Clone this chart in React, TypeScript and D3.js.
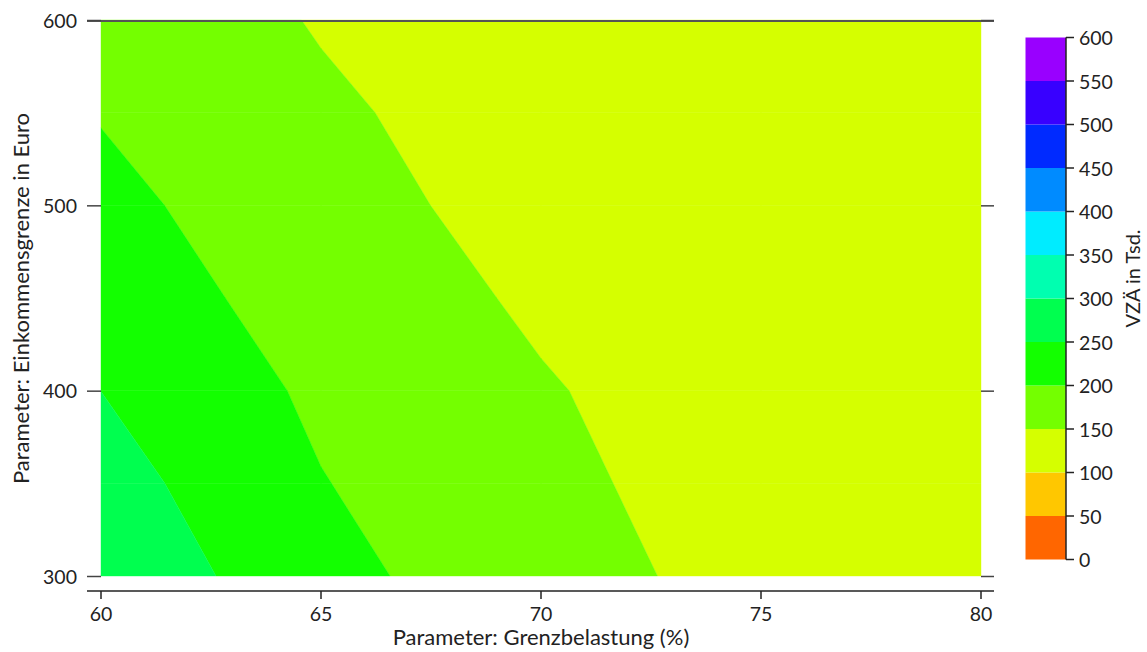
import React from "react";
import * as d3 from "d3";

// Grid axes
const xValues = [60, 65, 70, 75, 80];
const yValues = [300, 350, 400, 450, 500, 550, 600];

// VZÄ in Tsd., one array per Einkommensgrenze (row), columns follow xValues
const row300 = [288.3, 215.0, 167.2, 134.7, 120.0];
const row350 = [269.6, 202.0, 160.3, 128.9, 115.0];
const row400 = [249.8, 191.0, 154.0, 122.8, 110.0];
const row450 = [226.7, 179.5, 142.6, 117.0, 106.0];
const row500 = [212.2, 170.0, 129.8, 112.0, 103.0];
const row550 = [197.6, 158.0, 125.5, 108.0, 101.5];
const row600 = [186.0, 146.5, 118.0, 105.0, 100.8];
const grid = [row300, row350, row400, row450, row500, row550, row600];

// Contour levels and tick labels
const levels = [0, 50, 100, 150, 200, 250, 300, 350, 400, 450, 500, 550, 600];
const xTicks = [60, 65, 70, 75, 80];
const yTicks = [300, 400, 500, 600];
const xTitle = "Parameter: Grenzbelastung (%)";
const yTitle = "Parameter: Einkommensgrenze in Euro";
const legendTitle = "VZÄ in Tsd.";

const W = 1147;
const H = 652;
const FONT = "Lato, 'Source Sans Pro', sans-serif";
const FS_TICK = 19.5;
const FS_TITLE = 22;

const bandColor = (k: number) =>
  d3.hsl(24 + (k * 252) / 11, 1, 0.5).formatHex();

type P = [number, number];

function cellPolygon(c: [number, number, number][], lo: number, hi: number): P[] {
  const pts: P[] = [];
  for (let k = 0; k < 4; k++) {
    const [xa, ya, va] = c[k];
    const [xb, yb, vb] = c[(k + 1) % 4];
    if (va >= lo && va < hi) pts.push([xa, ya]);
    const ts: number[] = [];
    for (const L of [lo, hi]) {
      if ((va < L && vb >= L) || (va >= L && vb < L)) {
        ts.push((L - va) / (vb - va));
      }
    }
    ts.sort((a, b) => a - b);
    ts.forEach((t) => pts.push([xa + (xb - xa) * t, ya + (yb - ya) * t]));
  }
  return pts;
}

export default function App() {
  const x = d3.scaleLinear().domain([60, 80]).range([101, 981]);
  const y = d3.scaleLinear().domain([300, 600]).range([576, 20]);
  const cy = d3.scaleLinear().domain([0, 600]).range([559.5, 37.5]);

  const line = d3
    .line<P>()
    .x((d) => x(d[0]))
    .y((d) => y(d[1]));

  const polys: { d: string; fill: string; key: string }[] = [];
  for (let j = 0; j < yValues.length - 1; j++) {
    for (let i = 0; i < xValues.length - 1; i++) {
      const c: [number, number, number][] = [
        [xValues[i], yValues[j], grid[j][i]],
        [xValues[i + 1], yValues[j], grid[j][i + 1]],
        [xValues[i + 1], yValues[j + 1], grid[j + 1][i + 1]],
        [xValues[i], yValues[j + 1], grid[j + 1][i]],
      ];
      for (let k = 0; k < levels.length - 1; k++) {
        const pts = cellPolygon(c, levels[k], levels[k + 1]);
        if (pts.length >= 3) {
          polys.push({
            d: (line(pts) as string) + "Z",
            fill: bandColor(k),
            key: `${i}-${j}-${k}`,
          });
        }
      }
    }
  }

  const axisY = 591;
  const bx0 = 1025.5;
  const bx1 = 1066;

  return (
    <svg
      width={W}
      height={H}
      style={{ position: "absolute", left: 0, top: 0, background: "#fff" }}
      fontFamily={FONT}
    >
      {/* filled contours, drawn cell by cell */}
      <g>
        {polys.map((p) => (
          <path key={p.key} d={p.d} fill={p.fill} stroke={p.fill} strokeWidth={0.4} />
        ))}
      </g>

      {/* top frame line */}
      <line x1={87} x2={994} y1={21} y2={21} stroke="#555" strokeWidth={2} />

      {/* y ticks (left and right) */}
      {yTicks.map((t) => (
        <g key={t}>
          <line x1={87} x2={101} y1={y(t) + 0.5} y2={y(t) + 0.5} stroke="#444" strokeWidth={1.5} />
          <line x1={981} x2={994} y1={y(t) + 0.5} y2={y(t) + 0.5} stroke="#444" strokeWidth={1.5} />
          <text
            x={77}
            y={y(t)}
            textAnchor="end"
            dominantBaseline="central"
            fontSize={FS_TICK}
            fill="#222"
          >
            {t}
          </text>
        </g>
      ))}

      {/* x axis */}
      <line x1={87} x2={994} y1={axisY} y2={axisY} stroke="#222" strokeWidth={1.5} />
      {xTicks.map((t) => (
        <g key={t}>
          <line x1={x(t)} x2={x(t)} y1={axisY} y2={axisY + 8} stroke="#222" strokeWidth={1.5} />
          <text x={x(t)} y={620.5} textAnchor="middle" fontSize={FS_TICK} fill="#222">
            {t}
          </text>
        </g>
      ))}
      <text x={541} y={645} textAnchor="middle" fontSize={FS_TITLE} fill="#222">
        {xTitle}
      </text>
      <text
        transform={`translate(29,298.5) rotate(-90)`}
        textAnchor="middle"
        fontSize={FS_TITLE}
        fill="#222"
      >
        {yTitle}
      </text>

      {/* colour key */}
      {levels.slice(0, -1).map((lv, k) => (
        <rect
          key={lv}
          x={bx0}
          y={cy(levels[k + 1])}
          width={bx1 - bx0}
          height={cy(lv) - cy(levels[k + 1])}
          fill={bandColor(k)}
        />
      ))}
      <line x1={bx1} x2={bx1} y1={cy(600)} y2={cy(0)} stroke="#222" strokeWidth={1.5} />
      {levels.map((lv) => (
        <g key={lv}>
          <line x1={bx1} x2={bx1 + 8} y1={cy(lv)} y2={cy(lv)} stroke="#222" strokeWidth={1.5} />
          <text
            x={1079}
            y={cy(lv)}
            dominantBaseline="central"
            fontSize={FS_TICK}
            fill="#222"
          >
            {lv}
          </text>
        </g>
      ))}
      <text
        transform={`translate(1140,278.5) rotate(-90)`}
        textAnchor="middle"
        fontSize={20}
        fill="#222"
      >
        {legendTitle}
      </text>
    </svg>
  );
}
